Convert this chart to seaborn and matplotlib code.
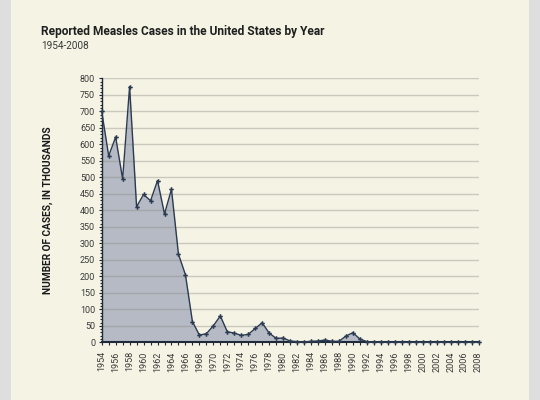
import matplotlib
matplotlib.use("Agg")
import matplotlib.pyplot as plt
import matplotlib.patches as mpatches
from matplotlib.ticker import MultipleLocator
import numpy as np
import pandas as pd
import seaborn as sns

# ---- data (thousands of reported cases) ----
years = list(range(1954, 2009))
cases = [700, 565, 622, 495, 775, 411, 448, 429, 490, 389,
         464, 267, 205, 63, 22, 26, 50, 80, 32, 28,
         21, 24, 42, 59, 28, 12, 13, 4, 2, 1,
         3, 4, 7, 3, 3, 19, 29, 10, 2, 0.3,
         1, 0.3, 0.5, 0.1, 0.1, 0.1, 0.1, 0.1, 0.1, 0.1,
         0.1, 0.1, 0.1, 0.1, 0.1]
title_text = "Reported Measles Cases in the United States by Year"
subtitle_text = "1954-2008"
ylabel_text = "NUMBER OF CASES, IN THOUSANDS"

df = pd.DataFrame({"year": years, "cases": cases})

sns.set_theme(style="white")
plt.rcParams["font.family"] = ["Roboto", "DejaVu Sans"]

W, H = 540, 400
fig = plt.figure(figsize=(W / 100, H / 100), dpi=100, facecolor="#dedede")
fig.patches.append(mpatches.Rectangle((11 / W, 0), (529 - 11) / W, 1,
                                      transform=fig.transFigure,
                                      facecolor="#f5f3e4", edgecolor="none", zorder=-10))

ax = fig.add_axes([101.7 / W, 1 - 342.3 / H, (478.5 - 101.7) / W, (342.3 - 78.3) / H])
ax.set_facecolor("none")
ax.set_zorder(5)

ax.fill_between(df["year"], df["cases"], 0, color="#b5bac4", linewidth=0, zorder=1)
for v in range(50, 801, 50):
    ax.axhline(v, color="#8c8c82", alpha=0.4, linewidth=1.0, zorder=2)
sns.lineplot(data=df, x="year", y="cases", ax=ax, color="#2c3b52", linewidth=1.0,
             marker="P", markersize=3.3, markeredgewidth=0, zorder=6, clip_on=False)

ax.set_xlim(1954, 2008)
ax.set_ylim(0, 800)
ax.xaxis.set_major_locator(MultipleLocator(2))
ax.xaxis.set_minor_locator(MultipleLocator(1))
ax.yaxis.set_major_locator(MultipleLocator(50))
ax.yaxis.set_minor_locator(MultipleLocator(10))

for s in ["top", "right"]:
    ax.spines[s].set_visible(False)
ax.spines["left"].set_color("#1e2a38")
ax.spines["left"].set_linewidth(1.0)
ax.spines["bottom"].set_color("#1e2a38")
ax.spines["bottom"].set_linewidth(1.5)
ax.spines["left"].set_zorder(4)
ax.spines["bottom"].set_zorder(4)

ax.tick_params(axis="both", which="both", direction="out", color="#1e2a38",
               width=0.8, labelsize=6.5, labelcolor="#3a3a3a", bottom=True, left=True)
ax.tick_params(axis="y", which="major", length=2.2, pad=2.5)
ax.tick_params(axis="y", which="minor", length=1.8)
ax.tick_params(axis="x", which="both", length=2.5, pad=4)
plt.setp(ax.get_xticklabels(), rotation=90)

ax.set_xlabel("")
ax.set_ylabel(ylabel_text, fontsize=7.3, fontweight="bold", color="#1a1a1a", labelpad=0)
ax.yaxis.set_label_coords((53 - 101.7) / (478.5 - 101.7), 0.5)
ax.grid(False)

fig.text(41 / W, 1 - 35 / H, title_text, fontsize=8.6, fontweight="bold",
         color="#1f1f1f", va="baseline", ha="left")
fig.text(41 / W, 1 - 49 / H, subtitle_text, fontsize=7.2, fontweight="normal",
         color="#3a3a3a", va="baseline", ha="left")

fig.savefig("out.png", dpi=100, facecolor=fig.get_facecolor())
